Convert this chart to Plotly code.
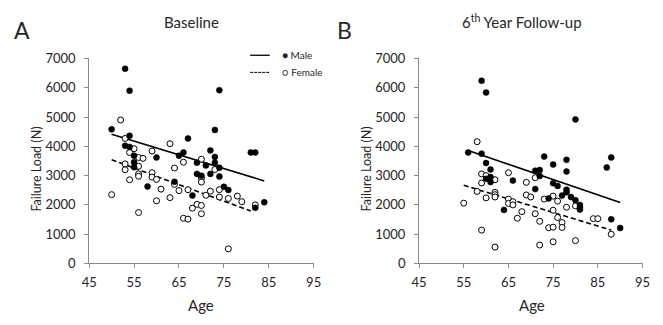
import plotly.graph_objects as go

# ---------------- data ----------------
# Panel A: Baseline
base_male_age = [53, 54, 74, 50, 54, 73, 67, 53, 54, 81, 82, 66, 65, 72, 73, 55, 60, 55, 55,
                 69, 71, 73, 74, 69, 70, 72, 74, 64, 58, 68, 75, 76, 82, 84]
base_male_load = [6650, 5900, 5920, 4580, 4360, 4560, 4270, 4020, 3980, 3790, 3790, 3790, 3680,
                  3860, 3640, 3680, 3620, 3460, 3290, 3440, 3350, 3440, 3270, 3060, 3000, 3060,
                  2970, 2790, 2630, 2320, 2620, 2510, 1900, 2090]
base_female_age = [52, 53, 55, 54, 56, 57, 59, 63, 70, 53, 53, 56, 56, 56, 54, 59, 59, 60, 61, 60,
                   63, 64, 64, 65, 66, 67, 68, 69, 70, 70, 66, 67, 70, 70, 71, 72, 73, 74, 74, 76,
                   78, 79, 82, 76, 50, 56]
base_female_load = [4900, 4270, 3920, 3790, 3620, 3590, 3840, 4090, 3560, 3400, 3200, 3320, 3060,
                    2980, 2860, 3100, 2950, 2870, 2540, 2140, 2250, 3260, 2700, 2490, 3460, 2520,
                    1890, 2020, 1980, 1700, 1545, 1515, 2920, 2780, 2330, 2470, 3210, 2520, 2270,
                    2220, 2300, 2110, 2000, 500, 2350, 1740]
base_male_fit_age = [50, 84]
base_male_fit_load = [4410, 2820]
base_female_fit_age = [50, 81]
base_female_fit_load = [3540, 1790]

# Panel B: 6th year follow-up
fu_male_age = [56, 59, 59, 60, 60, 61, 60, 61, 61, 66, 64, 73, 75, 78, 78, 71, 72, 72, 71, 75,
               76, 78, 78, 77, 74, 79, 80, 81, 81, 81, 80, 87, 88, 88, 90]
fu_male_load = [3790, 3750, 6240, 5840, 3430, 3210, 2890, 2950, 2780, 2830, 1830, 3650, 3380,
                3540, 3140, 3170, 3190, 2990, 2540, 2740, 2650, 2520, 2430, 2320, 2220, 2270,
                2160, 2000, 1920, 1840, 4920, 3280, 3620, 1510, 1210]
fu_female_age = [58, 55, 59, 58, 59, 60, 60, 62, 62, 62, 62, 59, 62, 65, 65, 65, 66, 66, 67, 68,
                 69, 69, 70, 71, 71, 72, 72, 73, 75, 76, 75, 76, 77, 77, 74, 75, 75, 78, 80, 80,
                 84, 85, 88]
fu_female_load = [4160, 2060, 3060, 2460, 2750, 3000, 2240, 2860, 2430, 2350, 2270, 1140, 560,
                  3100, 2200, 2050, 2110, 2000, 1545, 1770, 2770, 2340, 2270, 2930, 1700, 1440,
                  630, 2200, 2300, 2130, 1820, 1570, 1400, 1230, 1220, 1240, 740, 1920, 1970,
                  780, 1530, 1530, 1000]
fu_male_fit_age = [56, 90]
fu_male_fit_load = [3860, 2080]
fu_female_fit_age = [55, 88]
fu_female_fit_load = [2670, 1140]

x_ticks = [45, 55, 65, 75, 85, 95]
y_ticks = [0, 1000, 2000, 3000, 4000, 5000, 6000, 7000]
panel_titles = ["Baseline", "6<sup>th</sup> Year Follow-up"]
panel_letters = ["A", "B"]
x_title = "Age"
y_title = "Failure Load (N)"
legend_labels = ["Male", "Female"]

# ---------------- figure ----------------
FONT = "Lato, 'Open Sans', sans-serif"
TXT = "#262626"
AX = "#8a8a8a"
W, H = 663, 325
OFF = 8  # page body margin: the figure is drawn 8px right/down of the window origin


def px(p):
    return (p - OFF) / W


def py(p):
    return 1 - (p - OFF) / H


fig = go.Figure()


def add_panel(xa, ya, m_age, m_load, f_age, f_load, mfa, mfl, ffa, ffl):
    fig.add_trace(go.Scatter(x=mfa, y=mfl, mode="lines", xaxis=xa, yaxis=ya,
                             line=dict(color="black", width=1.6), showlegend=False,
                             hoverinfo="skip"))
    fig.add_trace(go.Scatter(x=ffa, y=ffl, mode="lines", xaxis=xa, yaxis=ya,
                             line=dict(color="black", width=1.6, dash="5px,3px"),
                             showlegend=False, hoverinfo="skip"))
    fig.add_trace(go.Scatter(x=f_age, y=f_load, mode="markers", xaxis=xa, yaxis=ya,
                             marker=dict(size=6, color="white",
                                         line=dict(color="black", width=1)),
                             showlegend=False))
    fig.add_trace(go.Scatter(x=m_age, y=m_load, mode="markers", xaxis=xa, yaxis=ya,
                             marker=dict(size=6, color="black",
                                         line=dict(color="black", width=0.5)),
                             showlegend=False))


add_panel("x", "y", base_male_age, base_male_load, base_female_age, base_female_load,
          base_male_fit_age, base_male_fit_load, base_female_fit_age, base_female_fit_load)
add_panel("x2", "y2", fu_male_age, fu_male_load, fu_female_age, fu_female_load,
          fu_male_fit_age, fu_male_fit_load, fu_female_fit_age, fu_female_fit_load)

ydom = [py(268.3), py(52.7)]
xdomA = [px(83), px(313)]
xdomB = [px(421), px(650)]


def xaxis(domain, anchor):
    return dict(domain=domain, anchor=anchor, range=[45, 95], tickvals=x_ticks,
                showgrid=False, zeroline=False, showline=True, linecolor=AX, linewidth=1,
                ticks="outside", ticklen=4, tickcolor=AX, ticklabelstandoff=3,
                tickfont=dict(family=FONT, size=13, color=TXT))


def yaxis(anchor):
    return dict(domain=ydom, anchor=anchor, range=[0, 7000], tickvals=y_ticks,
                showgrid=False, zeroline=False, showline=True, linecolor=AX, linewidth=1,
                ticks="outside", ticklen=4, tickcolor=AX, ticklabelstandoff=6,
                tickfont=dict(family=FONT, size=13, color=TXT))


annotations = []
# panel letters and titles
for cx, letter, lx, title in [(188, panel_letters[0], 14, panel_titles[0]),
                              (527, panel_letters[1], 345, panel_titles[1])]:
    annotations.append(dict(x=px(lx), y=py(23), xref="paper", yref="paper",
                            text=letter, showarrow=False, xanchor="center", yanchor="middle",
                            font=dict(family=FONT, size=23, color=TXT)))
    annotations.append(dict(x=px(cx), y=py(14), xref="paper", yref="paper",
                            text=title, showarrow=False, xanchor="center", yanchor="middle",
                            font=dict(family=FONT, size=15, color=TXT)))
# axis titles
for cx in [198, 537]:
    annotations.append(dict(x=px(cx), y=py(312), xref="paper", yref="paper",
                            text=x_title, showarrow=False, xanchor="center", yanchor="middle",
                            font=dict(family=FONT, size=15, color=TXT)))
for cx in [29, 367]:
    annotations.append(dict(x=px(cx), y=py(169), xref="paper", yref="paper",
                            text=y_title, showarrow=False, textangle=-90,
                            xanchor="center", yanchor="middle",
                            font=dict(family=FONT, size=12.5, color=TXT)))
# legend
for ly, lab, sym in [(49.3, legend_labels[0], "●"), (67.3, legend_labels[1], "○")]:
    annotations.append(dict(x=px(279), y=py(ly), xref="paper", yref="paper",
                            text=sym + " " + lab, showarrow=False, xanchor="left",
                            yanchor="middle", font=dict(family=FONT, size=10, color=TXT)))

shapes = [
    dict(type="line", xref="paper", yref="paper", x0=px(248), x1=px(268),
         y0=py(49.3), y1=py(49.3), line=dict(color="black", width=1.3)),
    dict(type="line", xref="paper", yref="paper", x0=px(248), x1=px(268),
         y0=py(67.3), y1=py(67.3), line=dict(color="black", width=1, dash="3px,1px")),
]

fig.update_layout(
    width=W, height=H,
    margin=dict(l=0, r=0, t=0, b=0),
    paper_bgcolor="white", plot_bgcolor="white",
    showlegend=False,
    xaxis=xaxis(xdomA, "y"), yaxis=yaxis("x"),
    xaxis2=xaxis(xdomB, "y2"), yaxis2=yaxis("x2"),
    annotations=annotations, shapes=shapes,
    font=dict(family=FONT, color=TXT),
)

fig.write_html("out.html")
